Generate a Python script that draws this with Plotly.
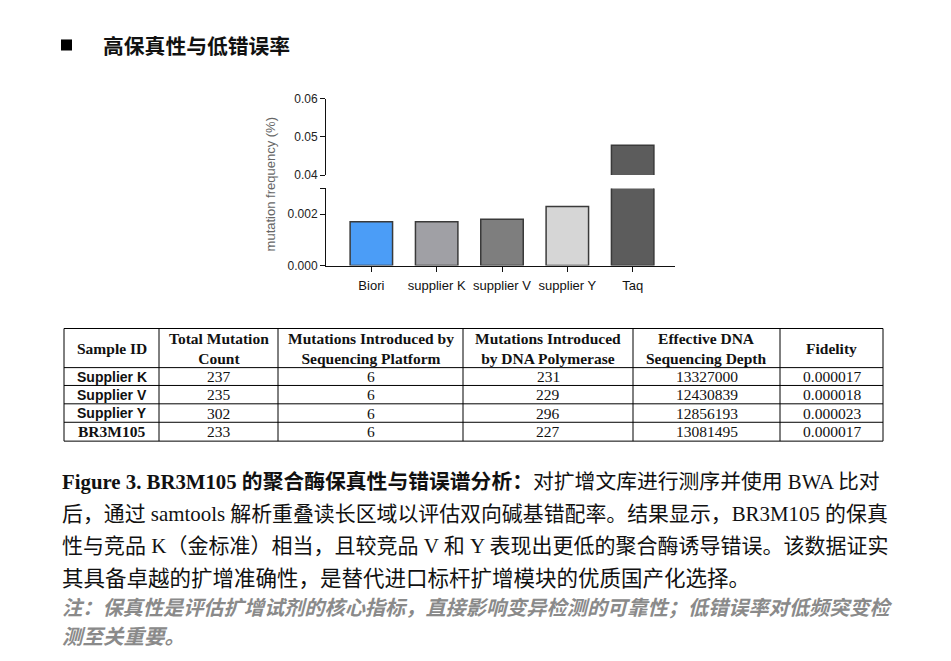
import plotly.graph_objects as go

# ---------------- data ----------------
categories = ["Biori", "supplier K", "supplier V", "supplier Y", "Taq"]
mutation_freq = [0.0017, 0.0017, 0.0018, 0.0023, 0.0478]

lower_ticks = [0.0, 0.002, 0.003]
lower_ticktext = ["0.000", "0.002", ""]
upper_ticks = [0.04, 0.05, 0.06]
upper_ticktext = ["0.04", "0.05", "0.06"]

table_header = ["Sample ID", "Total Mutation<br>Count", "Mutations Introduced by<br>Sequencing Platform",
                "Mutations Introduced<br>by DNA Polymerase", "Effective DNA<br>Sequencing Depth", "Fidelity"]
sample_ids = ["Supplier K", "Supplier V", "Supplier Y", "BR3M105"]
total_mutation = [237, 235, 302, 233]
seq_platform = [6, 6, 6, 6]
polymerase = [231, 229, 296, 227]
depth = [13327000, 12430839, 12856193, 13081495]
fidelity = ["0.000017", "0.000018", "0.000023", "0.000017"]

section_title = "高保真性与低错误率"
caption_lines = [
    "<b>Figure 3. BR3M105 的聚合酶保真性与错误谱分析：</b>对扩增文库进行测序并使用 BWA 比对",
    "后，通过 samtools 解析重叠读长区域以评估双向碱基错配率。结果显示，BR3M105 的保真",
    "性与竞品 K（金标准）相当，且较竞品 V 和 Y 表现出更低的聚合酶诱导错误。该数据证实",
    "其具备卓越的扩增准确性，是替代进口标杆扩增模块的优质国产化选择。",
    "<b><i>注：保真性是评估扩增试剂的核心指标，直接影响变异检测的可靠性；低错误率对低频突变检</i></b>",
    "<b><i>测至关重要。</i></b>",
]

# ---------------- style ----------------
W, H = 951, 661
bar_colors = ["#4b9df7", "#a0a0a5", "#7e7e7e", "#d6d6d6", "#5c5c5c"]
SANS = "Liberation Sans, Arial, sans-serif"
SERIF = "Liberation Serif, Noto Sans CJK SC, serif"
CJK = "Noto Sans CJK SC, sans-serif"
caption_y = [482, 514, 546, 578, 607, 636]
caption_size = [20.8, 20.9, 21.0, 21.5, 20.2, 20.5]
caption_color = ["#111", "#111", "#111", "#111", "#8a8a8a", "#8a8a8a"]
col_edges = [64, 159, 278, 463, 633, 780, 883]
row_edges = [328.7, 367.7, 385.5, 403.8, 422.2, 441]
label_fonts = [SANS, SANS, SANS, SERIF]
label_sizes = [14, 14, 14, 15.5]

# empirical page offset / scale correction (target pixel -> layout pixel)
DX = 8.0
DY = 16.1
SY = 0.976


def px(x):
    return (x - DX) / W


def py(y):
    return 1 - ((y - DY) / SY) / H


fig = go.Figure()
bar_style = dict(marker=dict(color=bar_colors, line=dict(color="#3a3a3a", width=1.5)),
                 width=0.65, showlegend=False, hoverinfo="skip")
fig.add_trace(go.Bar(x=categories, y=mutation_freq, xaxis="x", yaxis="y", **bar_style))
fig.add_trace(go.Bar(x=categories, y=mutation_freq, xaxis="x2", yaxis="y2", **bar_style))

axis_common = dict(showline=True, linecolor="#111", linewidth=1, ticks="outside", ticklen=5,
                   tickcolor="#111", showgrid=False, zeroline=False)

fig.update_layout(
    width=W, height=H, margin=dict(l=0, r=0, t=0, b=0),
    paper_bgcolor="white", plot_bgcolor="rgba(0,0,0,0)",
    bargap=0.35,
    xaxis=dict(domain=[px(326), px(675)], range=[-0.694, 4.648], anchor="y", ticklabelstandoff=3,
               tickfont=dict(family=SANS, size=13, color="#111"), **axis_common),
    xaxis2=dict(domain=[px(326), px(675)], range=[-0.694, 4.648], anchor="y2", matches="x",
                visible=False),
    yaxis=dict(domain=[py(266), py(189)], range=[0, 0.003], anchor="x",
               tickvals=lower_ticks, ticktext=lower_ticktext,
               tickfont=dict(family=SANS, size=12, color="#222"), **axis_common),
    yaxis2=dict(domain=[py(175.7), py(99.7)], range=[0.04, 0.06], anchor="x2",
                tickvals=upper_ticks, ticktext=upper_ticktext,
                tickfont=dict(family=SANS, size=12, color="#222"), **axis_common),
)

ann = []
shapes = []

# y axis title
ann.append(dict(x=px(270), y=py(185), xref="paper", yref="paper", text="mutation frequency (%)",
                textangle=-90, showarrow=False, font=dict(family=SANS, size=13, color="#666"),
                xanchor="center", yanchor="middle"))

# section title
shapes.append(dict(type="rect", xref="paper", yref="paper", x0=px(61), x1=px(72), y0=py(51.5), y1=py(40.5),
                   fillcolor="black", line=dict(width=0)))
ann.append(dict(x=px(101), y=py(46), xref="paper", yref="paper", text="<b>" + section_title + "</b>",
                showarrow=False, font=dict(family=CJK, size=20.8, color="#111"),
                xanchor="left", yanchor="middle"))

# table grid
for ry in row_edges:
    shapes.append(dict(type="line", xref="paper", yref="paper", x0=px(col_edges[0]), x1=px(col_edges[-1]),
                       y0=py(ry), y1=py(ry), line=dict(color="black", width=1)))
for cx in col_edges:
    shapes.append(dict(type="line", xref="paper", yref="paper", x0=px(cx), x1=px(cx),
                       y0=py(row_edges[0]), y1=py(row_edges[-1]), line=dict(color="black", width=1)))

col_centers = [(col_edges[i] + col_edges[i + 1]) / 2 for i in range(len(col_edges) - 1)]
row_centers = [(row_edges[i] + row_edges[i + 1]) / 2 for i in range(len(row_edges) - 1)]

for j, h in enumerate(table_header):
    ann.append(dict(x=px(col_centers[j]), y=py(row_centers[0]), xref="paper", yref="paper",
                    text="<b>" + h + "</b>", showarrow=False,
                    font=dict(family=SERIF, size=15.5, color="#111"),
                    xanchor="center", yanchor="middle"))

columns = [total_mutation, seq_platform, polymerase, depth, fidelity]
for i, sid in enumerate(sample_ids):
    yc = py(row_centers[i + 1])
    ann.append(dict(x=px(col_centers[0]), y=yc, xref="paper", yref="paper", text="<b>" + sid + "</b>",
                    showarrow=False, font=dict(family=label_fonts[i], size=label_sizes[i], color="#111"),
                    xanchor="center", yanchor="middle"))
    for j, col in enumerate(columns):
        ann.append(dict(x=px(col_centers[j + 1]), y=yc, xref="paper", yref="paper", text=str(col[i]),
                        showarrow=False, font=dict(family=SERIF, size=15.5, color="#111"),
                        xanchor="center", yanchor="middle"))

# caption
for k, line in enumerate(caption_lines):
    ann.append(dict(x=px(60), y=py(caption_y[k]), xref="paper", yref="paper", text=line,
                    showarrow=False, font=dict(family=SERIF, size=caption_size[k], color=caption_color[k]),
                    xanchor="left", yanchor="middle", align="left"))

fig.update_layout(annotations=ann, shapes=shapes)
fig.write_html("out.html")
